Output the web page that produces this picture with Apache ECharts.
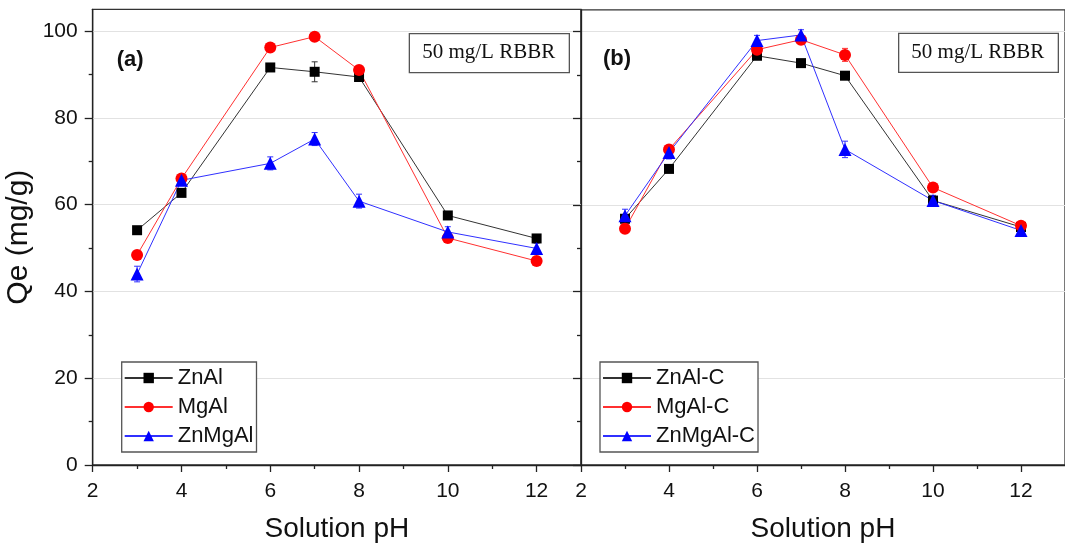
<!DOCTYPE html>
<html>
<head>
<meta charset="utf-8">
<script src="https://cdn.jsdelivr.net/npm/echarts@6/dist/echarts.min.js"></script>
<style>html,body{margin:0;padding:0;background:#fff}#c{width:1065px;height:548px}</style>
</head>
<body>
<div id="c"></div>
<script>
// ---- data ----
const pH = [3, 4, 6, 7, 8, 10, 12];
const xTicks = [2, 4, 6, 8, 10, 12];
const xMinorTicks = [3, 5, 7, 9, 11];
const yTicks = [0, 20, 40, 60, 80, 100];
const yMinorTicks = [10, 30, 50, 70, 90];

const namesA = ['ZnAl', 'MgAl', 'ZnMgAl'];
const namesB = ['ZnAl-C', 'MgAl-C', 'ZnMgAl-C'];

const qeZnAl   = [54.1, 62.7, 91.6, 90.6, 89.4, 57.5, 52.2];
const qeMgAl   = [48.4, 66.0, 96.2, 98.7, 91.0, 52.3, 47.0];
const qeZnMgAl = [44.0, 65.6, 69.5, 75.1, 60.8, 53.7, 49.9];
const errZnAl   = [0.8, 0.8, 0.8, 2.3, 0.8, 0.8, 0.8];
const errMgAl   = [0.8, 0.8, 0.8, 0.8, 1.0, 0.8, 0.8];
const errZnMgAl = [1.8, 1.2, 1.5, 1.5, 1.6, 1.2, 1.2];

const qeZnAlC   = [56.8, 68.3, 94.4, 92.7, 89.8, 61.0, 54.9];
const qeMgAlC   = [54.5, 72.8, 95.8, 98.1, 94.6, 64.0, 55.2];
const qeZnMgAlC = [57.5, 72.1, 97.9, 99.2, 72.8, 61.0, 54.1];
const errZnAlC   = [0.8, 0.8, 0.8, 0.8, 0.8, 0.8, 0.8];
const errMgAlC   = [0.8, 0.8, 0.8, 0.8, 1.5, 0.8, 0.8];
const errZnMgAlC = [1.5, 1.5, 1.2, 1.2, 1.9, 1.2, 1.2];

const boxText = '50 mg/L RBBR';
const xName = 'Solution pH';
const yName = 'Qe (mg/g)';

// ---- styling ----
const FONT = 'Liberation Sans, Arial, sans-serif';
const colors = ['#000000', '#ff0000', '#0000ff'];
const lineColors = ['#333333', '#ff3030', '#3030ff'];
const symbols = ['rect', 'circle', 'triangle'];
const symbolSizes = [10, 12, 13];

const chart = echarts.init(document.getElementById('c'));

function pairs(ys) { return pH.map((x, i) => [x, ys[i]]); }
function errData(ys, es) { return pH.map((x, i) => [x, ys[i], es[i]]); }

function errRender(color) {
  return function (params, api) {
    const x = api.value(0), y = api.value(1), e = api.value(2);
    const t = api.coord([x, y + e]), b = api.coord([x, y - e]);
    const w = 3;
    const st = { stroke: color, lineWidth: 1 };
    return { type: 'group', children: [
      { type: 'line', shape: { x1: t[0], y1: t[1], x2: b[0], y2: b[1] }, style: st },
      { type: 'line', shape: { x1: t[0] - w, y1: t[1], x2: t[0] + w, y2: t[1] }, style: st },
      { type: 'line', shape: { x1: b[0] - w, y1: b[1], x2: b[0] + w, y2: b[1] }, style: st }
    ]};
  };
}

const axisLineStyle = { color: '#222', width: 1.3 };
const labelStyle = { color: '#111', fontSize: 21, fontFamily: FONT };

function mainX(gi) {
  return {
    type: 'value', gridIndex: gi, min: 2, max: 13, interval: 2, position: 'bottom',
    name: xName, nameLocation: 'middle', nameGap: 50,
    nameTextStyle: { color: '#111', fontSize: 28, fontFamily: FONT },
    axisLine: { show: true, lineStyle: axisLineStyle },
    axisTick: { show: true, length: 7, inside: false, lineStyle: axisLineStyle, customValues: xTicks },
    axisLabel: { ...labelStyle, margin: 16, customValues: xTicks },
    splitLine: { show: false }
  };
}
function minorX(gi) {
  return {
    type: 'value', gridIndex: gi, min: 2, max: 13, interval: 2, position: 'bottom', offset: 0,
    axisLine: { show: false },
    axisTick: { show: true, length: 4, lineStyle: axisLineStyle, customValues: xMinorTicks },
    axisLabel: { show: false },
    splitLine: { show: false }
  };
}
function mainY(gi, showLabels) {
  return {
    type: 'value', gridIndex: gi, min: 0, max: 105, interval: 20, position: 'left',
    name: showLabels ? yName : '', nameLocation: 'middle', nameGap: 59, nameRotate: 90,
    nameTextStyle: { color: '#111', fontSize: 30, fontFamily: FONT },
    axisLine: { show: true, lineStyle: axisLineStyle },
    axisTick: { show: true, length: 8, lineStyle: axisLineStyle, customValues: yTicks },
    axisLabel: { show: showLabels, ...labelStyle, margin: 15, customValues: yTicks },
    splitLine: { show: true, lineStyle: { color: '#e2e2e2', width: 1 } }
  };
}
function minorY(gi) {
  return {
    type: 'value', gridIndex: gi, min: 0, max: 105, interval: 20, position: 'left', offset: 0,
    axisLine: { show: false },
    axisTick: { show: true, length: 4, lineStyle: axisLineStyle, customValues: yMinorTicks },
    axisLabel: { show: false },
    splitLine: { show: false }
  };
}

const series = [];
function addPanel(gi, names, qes, errs) {
  for (let k = 0; k < 3; k++) {
    series.push({
      type: 'custom', xAxisIndex: gi * 2, yAxisIndex: gi * 2, z: 2,
      renderItem: errRender(lineColors[k]), data: errData(qes[k], errs[k]),
      encode: { x: 0, y: 1 }, silent: true
    });
  }
  for (let k = 0; k < 3; k++) {
    series.push({
      type: 'line', name: names[k], xAxisIndex: gi * 2, yAxisIndex: gi * 2, z: 3,
      data: pairs(qes[k]), symbol: symbols[k], symbolSize: symbolSizes[k],
      showSymbol: true, animation: false,
      itemStyle: { color: colors[k], borderWidth: 0 },
      lineStyle: { color: lineColors[k], width: 1 }
    });
  }
}
addPanel(0, namesA, [qeZnAl, qeMgAl, qeZnMgAl], [errZnAl, errMgAl, errZnMgAl]);
addPanel(1, namesB, [qeZnAlC, qeMgAlC, qeZnMgAlC], [errZnAlC, errMgAlC, errZnMgAlC]);

function legend(left, names) {
  return {
    data: names, left: left, top: 362, orient: 'vertical',
    itemWidth: 48, itemHeight: 13, itemGap: 5, itemTextGap: 6,
    padding: [4, 3, 4, 2],
    borderColor: '#555', borderWidth: 1.3, backgroundColor: '#fff',
    textStyle: { color: '#111', fontSize: 22, fontFamily: FONT, lineHeight: 24 },
    selectedMode: false
  };
}

function labelBox(x, y, w, h) {
  return [
    { type: 'rect', left: x, top: y, shape: { x: 0, y: 0, width: w, height: h },
      style: { fill: '#fff', stroke: '#555', lineWidth: 1.3 }, z: 10 },
    { type: 'text', x: x + w / 2, y: y + h / 2, z: 11,
      style: { text: boxText, fontSize: 21, fontFamily: 'Liberation Serif, Times New Roman, serif',
        fill: '#111', textAlign: 'center', textVerticalAlign: 'middle' } }
  ];
}

chart.setOption({
  animation: false,
  backgroundColor: '#fff',
  grid: [
    { left: 92.7, top: 9.3, width: 488.3, height: 456.4, show: true, borderColor: '#333', borderWidth: 1.3, backgroundColor: 'transparent' },
    { left: 581, top: 9.8, width: 486, height: 455.9, show: true, borderColor: '#333', borderWidth: 1.3, backgroundColor: 'transparent' }
  ],
  xAxis: [mainX(0), minorX(0), mainX(1), minorX(1)],
  yAxis: [mainY(0, true), minorY(0), mainY(1, false), minorY(1)],
  legend: [legend(121.7, namesA), legend(600, namesB)],
  graphic: [
    ...labelBox(408.7, 33, 160, 39),
    ...labelBox(898, 32.7, 159.7, 39),
    { type: 'text', x: 116.7, y: 60, z: 11, style: { text: '(a)', fontSize: 22, fontWeight: 'bold', fontFamily: FONT, fill: '#111', textVerticalAlign: 'middle' } },
    { type: 'text', x: 603, y: 59, z: 11, style: { text: '(b)', fontSize: 22, fontWeight: 'bold', fontFamily: FONT, fill: '#111', textVerticalAlign: 'middle' } }
  ],
  series: series
});
</script>
</body>
</html>
